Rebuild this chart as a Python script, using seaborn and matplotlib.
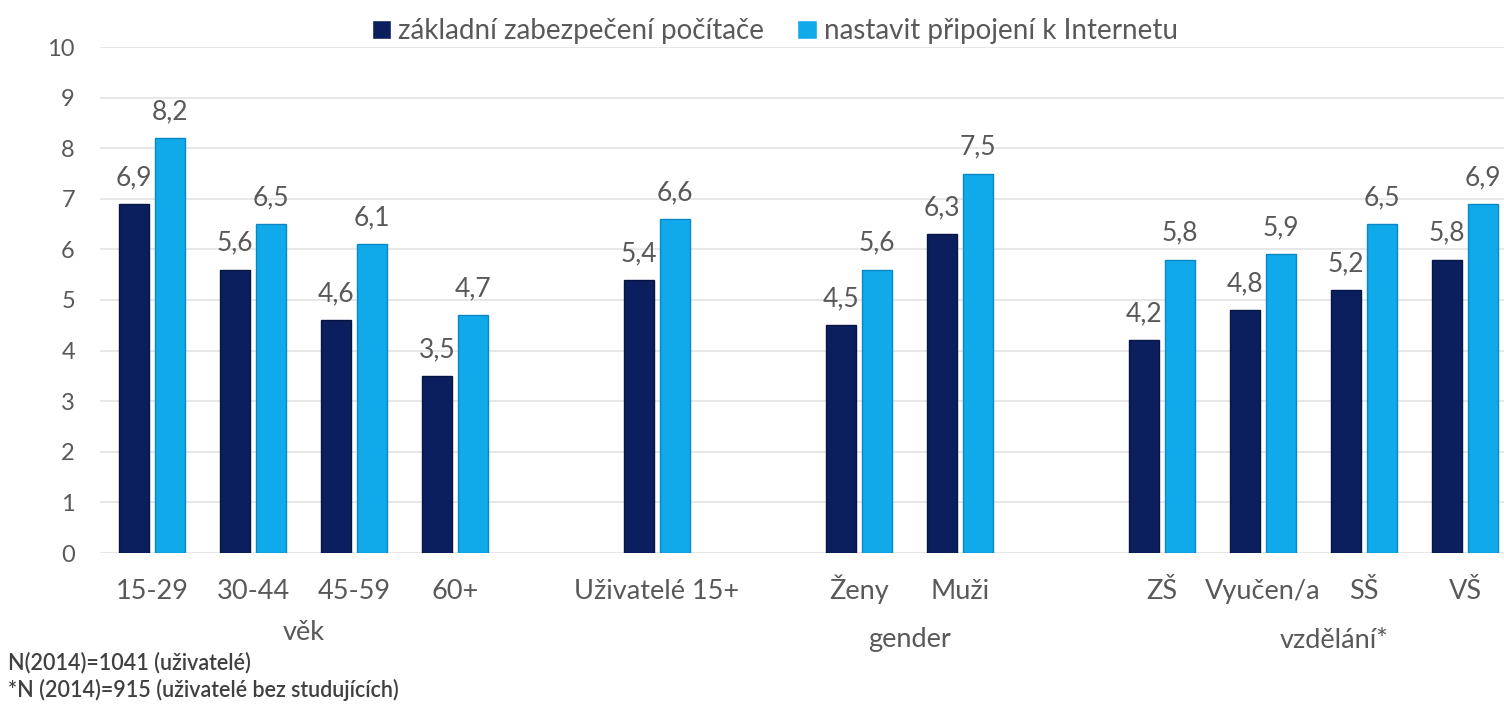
import matplotlib
matplotlib.use("Agg")
import matplotlib.pyplot as plt
import matplotlib.transforms as mtransforms
import seaborn as sns
import pandas as pd

categories = ["15-29", "30-44", "45-59", "60+", "Uživatelé 15+", "Ženy", "Muži",
              "ZŠ", "Vyučen/a", "SŠ", "VŠ"]
zabezpeceni = [6.9, 5.6, 4.6, 3.5, 5.4, 4.5, 6.3, 4.2, 4.8, 5.2, 5.8]
pripojeni = [8.2, 6.5, 6.1, 4.7, 6.6, 5.6, 7.5, 5.8, 5.9, 6.5, 6.9]
series_names = ["základní zabezpečení počítače", "nastavit připojení k Internetu"]
# slot order including empty gaps between groups
order = ["15-29", "30-44", "45-59", "60+", " ", "Uživatelé 15+", "  ", "Ženy", "Muži",
         "   ", "ZŠ", "Vyučen/a", "SŠ", "VŠ"]
groups = [("věk", 1.5, 632), ("gender", 7.5, 640), ("vzdělání*", 11.7, 640)]
footnotes = ["N(2014)=1041 (uživatelé)", "*N (2014)=915 (uživatelé bez studujících)"]

df = pd.DataFrame({
    "kategorie": categories * 2,
    "hodnota": zabezpeceni + pripojeni,
    "serie": [series_names[0]] * len(categories) + [series_names[1]] * len(categories),
})

sns.set_theme(style="white")
plt.rcParams["font.family"] = ["Lato", "DejaVu Sans"]
TXT = "#595959"

fig = plt.figure(figsize=(15.04, 7.05), dpi=100)
ax = fig.add_axes([100 / 1504, 152 / 705, 1404 / 1504, 506 / 705])

palette = {series_names[0]: "#0B1F5E", series_names[1]: "#10AAEB"}
sns.barplot(data=df, x="kategorie", y="hodnota", hue="serie", order=order,
            hue_order=series_names, palette=palette, width=0.72, gap=0.16,
            saturation=1, ax=ax, legend=True)

edges = ["#061544", "#0C86C4"]
for cont, ec in zip(ax.containers, edges):
    for p in cont.patches:
        p.set_edgecolor(ec)
        p.set_linewidth(1.0)
    ax.bar_label(cont, labels=[f"{v:.1f}".replace(".", ",") for v in cont.datavalues],
                 padding=10, fontsize=19, color=TXT)

ax.set_xlim(-0.515, 13.386)
ax.set_ylim(0, 10)
ax.set_yticks(range(0, 11))
ax.set_xticks(range(len(order)))
ax.set_xticklabels(order)
ax.yaxis.grid(True, color="#E3E3E3", linewidth=1.2)
ax.set_axisbelow(True)
for s in ax.spines.values():
    s.set_visible(False)
ax.tick_params(axis="y", length=0, pad=18, labelsize=17, labelcolor=TXT)
ax.tick_params(axis="x", length=0, pad=33, labelsize=19.5, labelcolor=TXT)
for lbl in ax.get_xticklabels():
    lbl.set_verticalalignment("baseline")
ax.set_xlabel("")
ax.set_ylabel("")

handles, labels = ax.get_legend_handles_labels()
ax.get_legend().remove()
fig.legend(handles, labels, loc="upper center", bbox_to_anchor=(0.515, 1.01),
           ncol=2, frameon=False, fontsize=20, labelcolor=TXT,
           handlelength=0.7, handleheight=0.7, handletextpad=0.25, columnspacing=1.2)

trans = mtransforms.blended_transform_factory(ax.transData, fig.transFigure)
for name, xpos, ypix in groups:
    ax.text(xpos, 1 - ypix / 705, name, transform=trans, ha="center", va="center",
            fontsize=19.5, color=TXT)

fig.text(8 / 1504, 1 - 663 / 705, footnotes[0], ha="left", va="center",
         fontsize=15.5, color="#404040", fontweight="semibold")
fig.text(8 / 1504, 1 - 690 / 705, footnotes[1], ha="left", va="center",
         fontsize=15.5, color="#404040", fontweight="semibold")

fig.savefig("out.png", dpi=100)
